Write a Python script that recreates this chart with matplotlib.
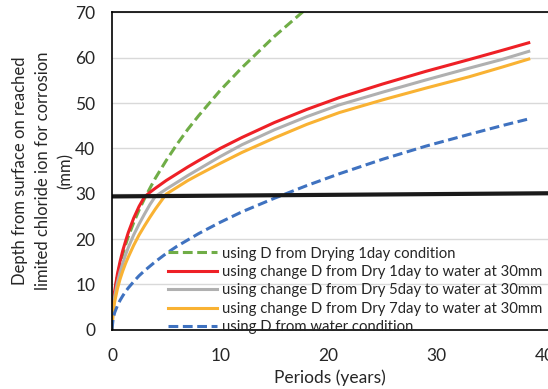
import numpy as np
import matplotlib
matplotlib.use("Agg")
import matplotlib.pyplot as plt

plt.rcParams['font.family'] = ['Lato', 'DejaVu Sans']

# periods (years)
t = [0, 0.1, 0.25, 0.5, 0.75, 1, 1.25, 1.5, 2, 2.5, 3, 3.5, 4, 5, 6, 7, 8,
     10, 12, 15, 18, 21, 25, 29, 33, 36, 38.5]
t_green = t[:21]

# depth (mm) reached by the limiting chloride content
depth_dry1 = [0, 5.3, 8.4, 11.8, 14.5, 16.7, 18.7, 20.5, 23.6, 26.4, 28.9, 31.2, 33.4,
              37.3, 40.9, 44.2, 47.2, 52.8, 57.8, 64.7, 70.9]
depth_dry1_water = [0, 5.5, 8.6, 12.3, 15.1, 17.5, 19.5, 21.4, 24.6, 27.2, 29.3, 30.3, 31.2,
                    32.9, 34.4, 35.9, 37.3, 40.0, 42.4, 45.7, 48.6, 51.2, 54.2, 57.0, 59.6,
                    61.6, 63.3]
depth_dry5_water = [0, 4.7, 7.4, 10.4, 12.8, 14.7, 16.5, 18.1, 20.9, 23.3, 25.5, 27.6, 29.4,
                    31.0, 32.5, 34.0, 35.4, 38.2, 40.8, 44.1, 47.0, 49.6, 52.4, 55.1, 57.7,
                    59.6, 61.4]
depth_dry7_water = [0, 3.8, 6.2, 9.0, 11.2, 13.0, 14.6, 16.0, 18.6, 20.9, 22.9, 24.8, 26.6,
                    29.9, 31.4, 32.9, 34.2, 36.7, 39.1, 42.3, 45.3, 47.9, 50.7, 53.3, 55.8,
                    57.9, 59.7]
depth_water = [0, 2.4, 3.8, 5.3, 6.5, 7.5, 8.4, 9.2, 10.6, 11.9, 13.0, 14.0, 15.0,
               16.8, 18.4, 19.8, 21.2, 23.7, 26.0, 29.0, 31.8, 34.4, 37.6, 40.5, 43.1,
               45.0, 46.5]

# limit line (cover depth)
limit_x = [0, 40.3]
limit_y = [29.4, 30.1]

labels = [
    "using D from Drying 1day condition",
    "using change D from Dry 1day to water at 30mm",
    "using change D from Dry 5day to water at 30mm",
    "using change D from Dry 7day to water at 30mm",
    "using D from water condition",
]

fig = plt.figure(figsize=(5.48, 3.89), dpi=100)
ax = fig.add_axes([112 / 548, 1 - 329.7 / 389, 1 - 112 / 548, 317.3 / 389])

dash = (0, (3.2, 1.5))
ax.plot(t_green, depth_dry1, color="#70AD47", lw=2.2, ls=dash, label=labels[0])
ax.plot(t, depth_dry1_water, color="#EE2026", lw=2.2, label=labels[1])
ax.plot(t, depth_dry5_water, color="#B0B0B0", lw=2.2, label=labels[2])
ax.plot(t, depth_dry7_water, color="#F9B233", lw=2.2, label=labels[3])
ax.plot(t, depth_water, color="#3F72C0", lw=2.2, ls=dash, label=labels[4])
ax.plot(limit_x, limit_y, color="#1A1A1A", lw=3.0, solid_capstyle="butt")

ax.set_xlim(0, 40.28)
ax.set_ylim(0, 70)
ax.set_xticks([0, 10, 20, 30, 40])
ax.set_yticks(range(0, 80, 10))
ax.grid(axis="y", color="#D9D9D9", lw=1.0)
ax.set_axisbelow(True)
ax.tick_params(length=0, labelsize=12.5, colors="#262626")
ax.tick_params(axis="x", pad=13)
ax.tick_params(axis="y", pad=12)
for side in ["left", "top", "bottom"]:
    ax.spines[side].set_color("black")
    ax.spines[side].set_linewidth(1.2)
ax.spines["right"].set_visible(False)

ax.set_xlabel("Periods (years)", fontsize=12.5, color="#262626", labelpad=4)
fig.text(43 / 548, 1 - 171 / 389,
         "Depth from surface on reached\nlimited chloride ion for corrosion\n(mm)",
         rotation=90, ha="center", va="center", multialignment="center",
         fontsize=12, color="#262626", linespacing=1.5)

ax.legend(loc="upper left", bbox_to_anchor=(0.128, 0.262), frameon=False,
          fontsize=10.7, borderpad=0, borderaxespad=0, handlelength=3.3,
          handletextpad=0.35, labelspacing=0.3, labelcolor="#262626")

fig.savefig("out.png", dpi=100)
